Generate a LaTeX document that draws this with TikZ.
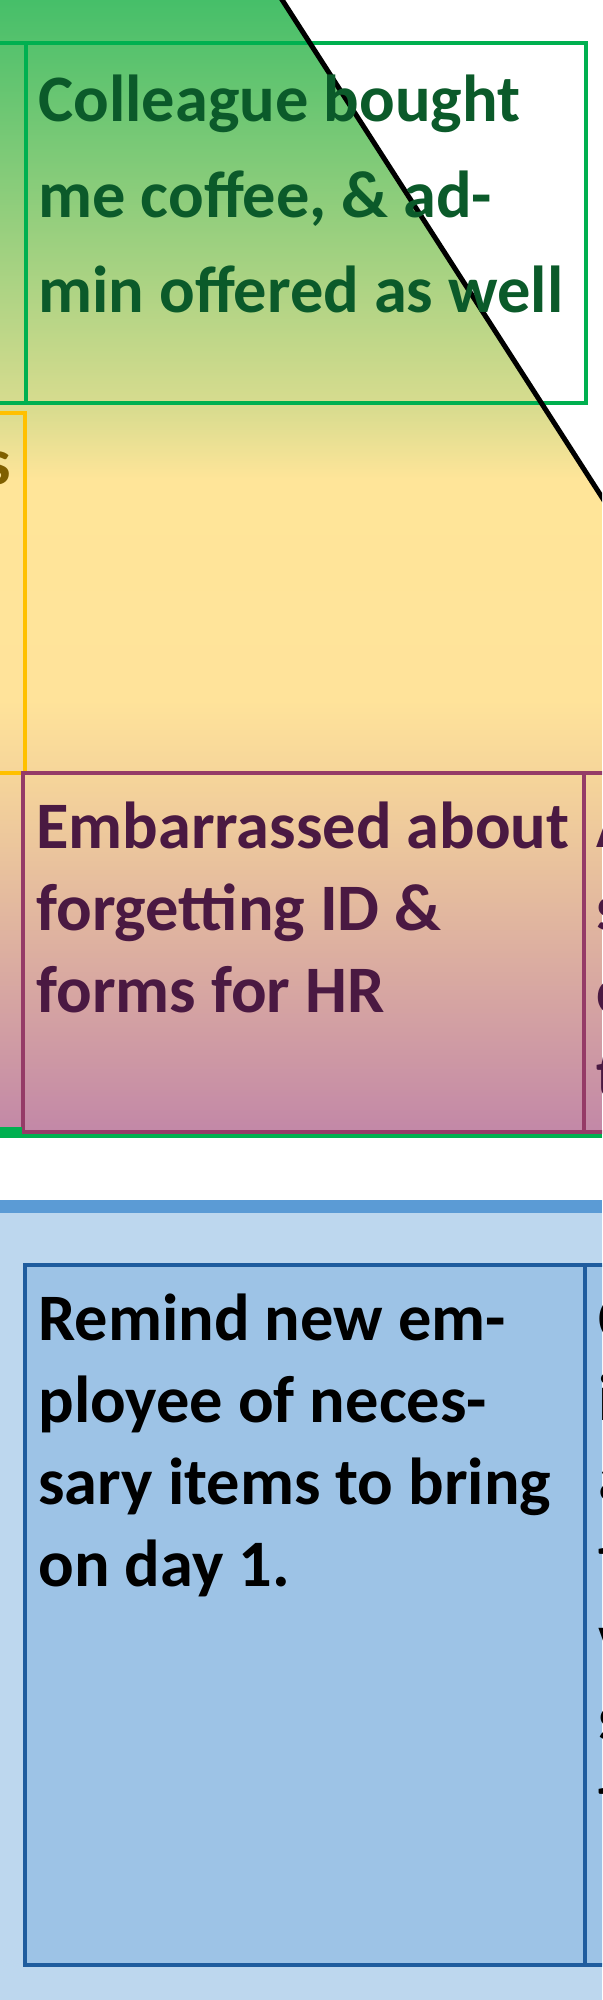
\documentclass[tikz,border=0pt]{standalone}
\usepackage{fontspec}
\setmainfont{Carlito}
\definecolor{gA}{HTML}{46BF69}
\definecolor{gB}{HTML}{D9DC8F}
\definecolor{gC}{HTML}{FFE599}
\definecolor{gD}{HTML}{FFE39A}
\definecolor{gE}{HTML}{F5D49A}
\definecolor{gF}{HTML}{C287A7}
\definecolor{greenline}{HTML}{00B050}
\definecolor{greentext}{HTML}{0B5A2A}
\definecolor{yellowline}{HTML}{FFC000}
\definecolor{olivetext}{HTML}{7F6000}
\definecolor{purpleline}{HTML}{953B67}
\definecolor{purpletext}{HTML}{4A1942}
\definecolor{blueband}{HTML}{5B9BD5}
\definecolor{bluebg}{HTML}{BDD7EE}
\definecolor{bluefill}{HTML}{9DC3E6}
\definecolor{blueline}{HTML}{1F5C9E}
\newcommand\mystack[2]{\vtop{\baselineskip=#1\relax #2}}
\begin{document}
\begin{tikzpicture}[x=0.5pt,y=-0.5pt,
  txt/.style={inner sep=0pt, anchor=base west, font=\fontsize{33.2}{40}\selectfont\bfseries},
  greenbox/.style={draw=greenline, line width=2.2pt},
  yellowbox/.style={draw=yellowline, line width=2.2pt},
  purplebox/.style={draw=purpleline, line width=2.4pt},
  bluebox/.style={draw=blueline, fill=bluefill, line width=2.4pt},
  curveline/.style={draw=black, line width=2.5pt}]
\clip (0,0) rectangle (602,2000);
% gradient background (left of the curve)
\begin{scope}
  \clip (0,0) -- (282,0) -- (602,497) -- (602,1134) -- (0,1134) -- cycle;
  \shade[top color=gA, bottom color=gB] (0,0) rectangle (602,410);
  \shade[top color=gB, bottom color=gC] (0,410) rectangle (602,480);
  \shade[top color=gC, bottom color=gD] (0,480) rectangle (602,700);
  \shade[top color=gD, bottom color=gE] (0,700) rectangle (602,780);
  \shade[top color=gE, bottom color=gF] (0,780) rectangle (602,1135);
\end{scope}
% blue lane
\fill[bluebg] (0,1207) rectangle (602,2000);
\fill[blueband] (0,1200) rectangle (602,1213);
% green row
\draw[greenbox] (0,43) -- (26,43);
\draw[greenbox] (26,43) rectangle (586,403);
\draw[greenbox] (0,403) -- (26,403);
% yellow row (left neighbour)
\draw[yellowbox] (-10,413) -- (25,413) -- (25,773) -- (-10,773);
% purple row
\draw[purplebox] (23,773) rectangle (584,1132);
\draw[purplebox] (584,773) -- (610,773);
\draw[purplebox] (584,1132) -- (610,1132);
\fill[greenline] (0,1127) rectangle (22,1138);
\draw[greenline, line width=1.6pt] (22,1136) -- (602,1136);
% blue row
\draw[bluebox] (25,1265) rectangle (585,1965);
\draw[bluebox] (585,1265) rectangle (640,1965);
% curve
\draw[curveline] (279,-5) -- (605,502);
% texts
\node[txt, text=greentext] (tg) at (38,122) {\mystack{47.75pt}{\hbox{Colleague bought}\hbox{me coffee, \& ad-}\hbox{min offered as well}}};
\node[txt, text=olivetext, anchor=base east] (ty) at (11,485) {s};
\node[txt, text=purpletext] (tp) at (36,848) {\mystack{41pt}{\hbox{Embarrassed about}\hbox{forgetting ID \&}\hbox{forms for HR}}};
\node[txt, text=purpletext] (tp2) at (596,847) {\mystack{41.5pt}{\hbox{A}\hbox{s}\hbox{c}\hbox{t}}};
\node[txt, text=black] (tb) at (38,1340) {\mystack{41pt}{\hbox{Remind new em-}\hbox{ployee of neces-}\hbox{sary items to bring}\hbox{on day 1.}}};
\node[txt, text=black] (tb2) at (598,1340) {\mystack{40pt}{\hbox{C}\hbox{i}\hbox{a}\hbox{t}\hbox{v}\hbox{s}\hbox{t}}};
\end{tikzpicture}
\end{document}
